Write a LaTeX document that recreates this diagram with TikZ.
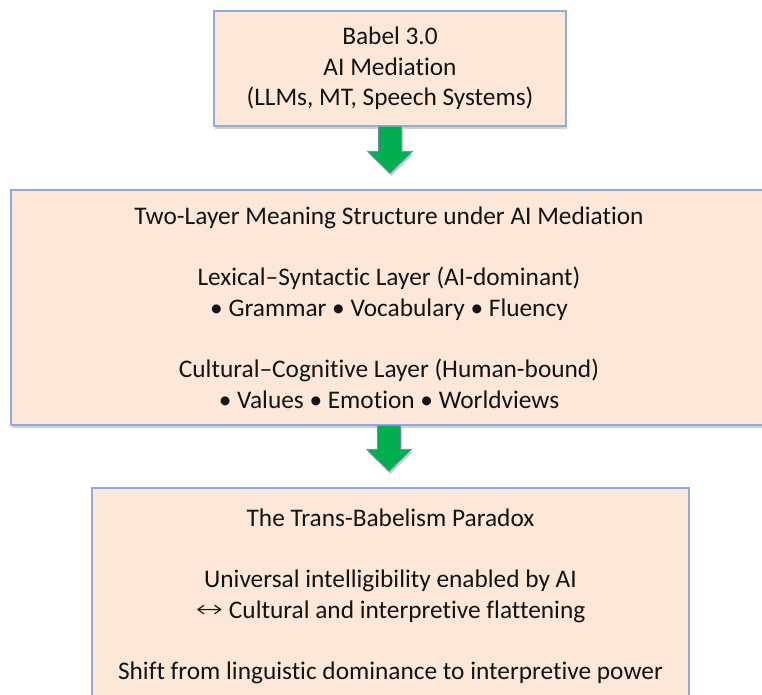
\documentclass[tikz,border=0pt]{standalone}
\usepackage{graphicx}
\usepackage{fontspec}
\setmainfont{Carlito}[RawFeature={-liga;-clig;-calt;-dlig}]
\newfontfamily\symbfont{DejaVu Sans ExtraLight}
\usetikzlibrary{positioning,calc,shadows}
\definecolor{boxfill}{HTML}{FCE7D9}
\definecolor{boxline}{HTML}{8FAADC}
\definecolor{arrowgreen}{HTML}{00B050}

% block arrow from the bottom of one stage down towards the next
\newcommand{\flowarrow}[2]{%
	\draw [flowarrow] ($(#1.south)+(-11.5,0)$) -- ($(#1.south |- #2.north)+(-11.5,-38)$) -- ($(#1.south |- #2.north)+(-22.5,-38)$) -- ($(#1.south |- #2.north)+(0,-16)$) -- ($(#1.south |- #2.north)+(22.5,-38)$) -- ($(#1.south |- #2.north)+(11.5,-38)$) -- ($(#1.south)+(11.5,0)$) ;
}

\begin{document}
\begin{tikzpicture}[x=0.75pt,y=0.75pt,yscale=-1,xscale=1,
	stage/.style={draw=boxline, line width=1.1pt, fill=boxfill, inner sep=0pt, align=center, text=black!92,
		font=\fontsize{19}{23}\selectfont, drop shadow={shadow xshift=1pt, shadow yshift=-2.5pt, fill=black!40, opacity=0.45}},
	flowarrow/.style={draw=boxline!80!black, line width=0.5pt, fill=arrowgreen, line join=miter,
		drop shadow={shadow xshift=1pt, shadow yshift=-2pt, fill=black!50, opacity=0.4}}]
	\useasboundingbox (0,0) rectangle (762,694);
	
	% Stage boxes
	\node [stage, minimum width=264pt, minimum height=86.25pt] (babel) at (390,68.5) {Babel 3.0\\AI Mediation\\(LLMs, MT, Speech Systems)};
	\node [stage, minimum width=567pt, minimum height=176.25pt] (layers) at (389,307.5) {Two-Layer Meaning Structure under AI Mediation\\[23pt]
		Lexical–Syntactic Layer (AI-dominant)\\• Grammar • Vocabulary • Fluency\\[23pt]
		Cultural–Cognitive Layer (Human-bound)\\• Values • Emotion • Worldviews};
	\node [stage, minimum width=447.75pt, minimum height=162.75pt] (paradox) at (390.5,596.5) {The Trans-Babelism Paradox\\[23pt]
		Universal intelligibility enabled by AI\\\raisebox{0.5pt}{\scalebox{1.45}[1.05]{\symbfont\fontsize{17}{23}\selectfont ↔}} Cultural and interpretive flattening\\[23pt]
		Shift from linguistic dominance to interpretive power};
	
	% Arrows between stages
	\flowarrow{babel}{layers}
	\flowarrow{layers}{paradox}
	
\end{tikzpicture}
\end{document}
